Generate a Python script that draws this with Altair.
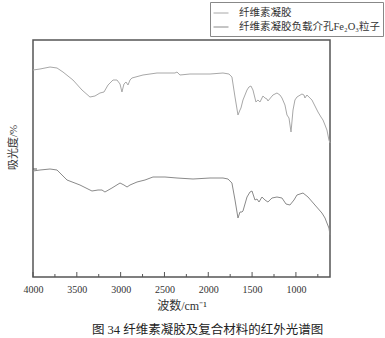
import altair as alt
import pandas as pd

# Wavenumbers (cm^-1) and absorbance (arbitrary units)
wn_gel = [4000, 3920, 3806, 3726, 3658, 3544, 3441, 3350, 3293, 3236, 3190, 3144, 3087, 3042,
          3007, 2985, 2962, 2939, 2916, 2893, 2871, 2745, 2585, 2380, 2357, 2323, 2209, 1980,
          1832, 1764, 1730, 1695, 1661, 1638, 1627, 1604, 1558, 1536, 1513, 1490, 1456, 1433,
          1410, 1376, 1353, 1330, 1319, 1262, 1216, 1182, 1159, 1125, 1102, 1079, 1056, 1033,
          1011, 988, 931, 908, 897, 874, 817, 748, 714, 691, 668, 646, 623, 611]
ab_gel = [207, 208, 210, 209, 205, 197, 187, 180, 181, 184, 185, 192, 197, 197,
          193, 185, 193, 195, 192, 197, 199, 202, 204, 204, 205, 202, 203, 203,
          204, 203, 200, 180, 162, 167, 169, 177, 187, 190, 191, 187, 175, 177,
          175, 181, 179, 178, 176, 182, 184, 182, 179, 172, 162, 159, 145, 167,
          177, 180, 183, 182, 179, 182, 177, 165, 160, 157, 152, 147, 137, 134]

wn_comp = [4000, 3920, 3806, 3726, 3692, 3646, 3612, 3464, 3327, 3258, 3213, 3179, 3099, 3007,
           2962, 2927, 2893, 2813, 2722, 2631, 2494, 2357, 2174, 1980, 1832, 1775, 1730, 1695,
           1661, 1638, 1615, 1604, 1558, 1524, 1501, 1467, 1444, 1421, 1387, 1353, 1319, 1273,
           1216, 1159, 1113, 1068, 1022, 988, 919, 862, 783, 703, 668, 646, 623, 611]
ab_comp = [106, 107, 108, 107, 104, 100, 97, 92, 86, 87, 87, 85, 89, 94,
           92, 90, 92, 95, 97, 100, 100, 99, 98, 99, 99, 98, 94, 77,
           59, 65, 65, 66, 80, 85, 86, 77, 78, 75, 80, 77, 75, 79,
           80, 79, 73, 72, 77, 82, 84, 80, 72, 64, 59, 54, 49, 42]

series_names = ["纤维素凝胶", "纤维素凝胶负载介孔Fe₂O₃粒子"]
series_colors = ["#a8a8a8", "#8a8a8a"]

major_ticks = [4000, 3500, 3000, 2500, 2000, 1500, 1000]
minor_ticks = [3750, 3250, 2750, 2250, 1750, 1250, 750]

df = pd.concat([
    pd.DataFrame({"wn": wn_gel, "ab": ab_gel, "s": series_names[0], "o": range(len(wn_gel))}),
    pd.DataFrame({"wn": wn_comp, "ab": ab_comp, "s": series_names[1], "o": range(len(wn_comp))}),
])

FONT = "Liberation Serif, Noto Sans CJK SC"

xscale = alt.Scale(domain=[4000, 611], nice=False, zero=False)
yscale = alt.Scale(domain=[0, 237], nice=False, zero=False)

lines = alt.Chart(df).mark_line(strokeWidth=1).encode(
    x=alt.X("wn:Q", scale=xscale,
            axis=alt.Axis(values=major_ticks, format="d", ticks=False, grid=False,
                          labelFont=FONT, labelFontSize=10, labelColor="#333",
                          labelPadding=7, labelFlush=False, domain=False,
                          title="波数/cm⁻¹", titleFont=FONT, titleFontSize=12,
                          titleFontWeight="normal", titleColor="#333", titlePadding=6)),
    y=alt.Y("ab:Q", scale=yscale,
            axis=alt.Axis(values=[108], labels=False, ticks=False, grid=False, domain=False,
                          title="吸光度/%", titleFont=FONT, titleFontSize=11,
                          titleFontWeight="normal", titleColor="#333",
                          titleAngle=270, titleAlign="center", titleBaseline="middle",
                          titleX=-20, titleY=107)),
    color=alt.Color("s:N", scale=alt.Scale(domain=series_names, range=series_colors),
                    legend=alt.Legend(title=None, orient="none", legendX=177, legendY=-38,
                                      symbolType="stroke", symbolSize=225, symbolStrokeWidth=1,
                                      labelFont=FONT, labelFontSize=10.5, labelColor="#333",
                                      labelOffset=10, rowPadding=0, padding=3,
                                      strokeColor="#888", fillColor="white", labelLimit=300)),
    order="o:Q",
)

tdf_major = pd.DataFrame({"t": major_ticks})
tdf_minor = pd.DataFrame({"t": minor_ticks})

ticks_major = alt.Chart(tdf_major).mark_rule(color="#555", strokeWidth=1).encode(
    x=alt.X("t:Q", scale=xscale), y=alt.value(237), y2=alt.value(232))
ticks_minor = alt.Chart(tdf_minor).mark_rule(color="#555", strokeWidth=1).encode(
    x=alt.X("t:Q", scale=xscale), y=alt.value(237), y2=alt.value(234))
ytick = alt.Chart(pd.DataFrame({"v": [108]})).mark_rule(color="#555", strokeWidth=1).encode(
    y=alt.Y("v:Q", scale=yscale), x=alt.value(0), x2=alt.value(4))

chart = alt.layer(lines, ticks_major, ticks_minor, ytick).properties(
    width=297, height=237,
    autosize=alt.AutoSizeParams(type="none"),
    padding={"left": 33, "top": 40, "right": 55, "bottom": 61},
    title=alt.TitleParams("图 34 纤维素凝胶及复合材料的红外光谱图", orient="bottom",
                          font=FONT, fontSize=12.5, fontWeight="normal", color="#222",
                          dx=26, offset=13),
).configure_view(stroke="#555", strokeWidth=1.5)

chart.save("out.html", embed_options={"renderer": "svg", "actions": False})
